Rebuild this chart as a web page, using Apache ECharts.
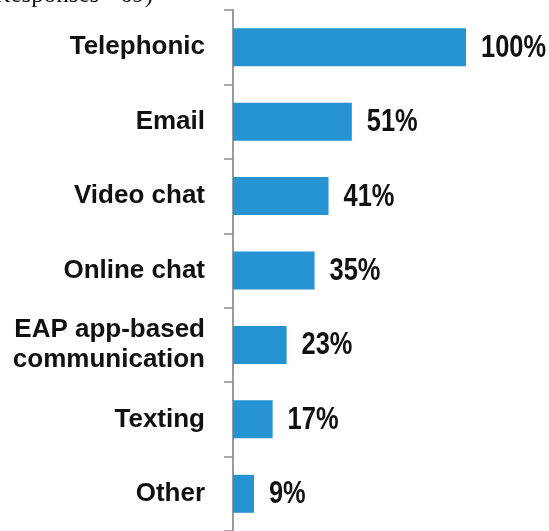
<!DOCTYPE html>
<html>
<head>
<meta charset="utf-8">
<script src="https://cdn.jsdelivr.net/npm/echarts@6/dist/echarts.min.js"></script>
<style>
  html, body { margin: 0; padding: 0; background: #ffffff; }
  #chart { width: 549px; height: 531px; }
</style>
</head>
<body>
<div id="chart"></div>
<script>
// Communication channels offered, share of respondents (%)
const channels = [
  'Telephonic',
  'Email',
  'Video chat',
  'Online chat',
  'EAP app-based\ncommunication',
  'Texting',
  'Other'
];
const shares = [100, 51, 41, 35, 23, 17, 9];
const noteText = '(Responses =69)';

const chart = echarts.init(document.getElementById('chart'), null, { renderer: 'canvas' });

// Value labels use a horizontally condensed bold sans (narrow look)
function renderValueLabel(params, api) {
  const pt = api.coord([api.value(0), api.value(1)]);
  return {
    type: 'text',
    x: pt[0] + 15,
    y: pt[1] + 1,
    scaleX: 0.82,
    style: {
      text: api.value(0) + '%',
      align: 'left',
      verticalAlign: 'middle',
      fontFamily: '"Liberation Sans", Arial, sans-serif',
      fontWeight: 'bold',
      fontSize: 31,
      fill: '#111111'
    }
  };
}

chart.setOption({
  animation: false,
  backgroundColor: '#ffffff',
  grid: { left: 233, top: 10, right: 83, height: 525, containLabel: false },
  graphic: [{
    type: 'text',
    style: {
      text: noteText,
      x: 153,
      y: -17,
      align: 'right',
      verticalAlign: 'top',
      font: '25px "Liberation Serif", "Times New Roman", serif',
      fill: '#111111'
    }
  }],
  xAxis: {
    type: 'value',
    min: 0,
    max: 100,
    show: false
  },
  yAxis: {
    type: 'category',
    data: channels,
    inverse: true,
    axisLine: { show: true, lineStyle: { color: '#8f8f8f', width: 1.8 } },
    axisTick: { show: true, length: 9, lineStyle: { color: '#8f8f8f', width: 1.5 } },
    axisLabel: {
      margin: 28,
      color: '#111111',
      fontFamily: '"Liberation Sans", Arial, sans-serif',
      fontWeight: 'bold',
      fontSize: 26,
      lineHeight: 30,
      align: 'right'
    },
    splitLine: { show: false }
  },
  series: [{
    type: 'bar',
    data: shares,
    barWidth: 38,
    itemStyle: { color: '#2592d1' }
  }, {
    type: 'custom',
    data: shares.map((v, i) => [v, i]),
    encode: { x: 0, y: 1 },
    renderItem: renderValueLabel,
    silent: true,
    z: 5
  }]
});
</script>
</body>
</html>
